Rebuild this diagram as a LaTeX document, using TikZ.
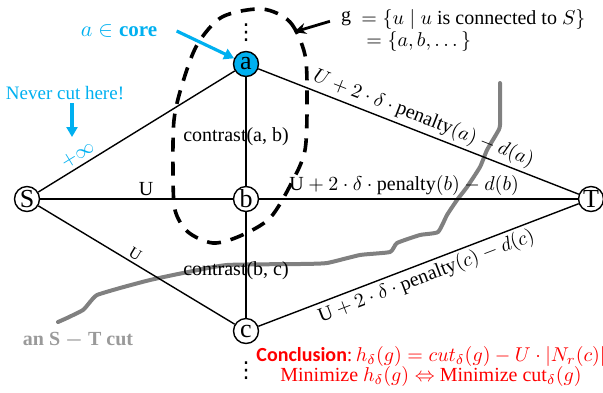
\documentclass[tikz,border=0pt]{standalone}
\usepackage{amsmath,amssymb}
\usepackage{fontspec}
\setmainfont{Liberation Serif}
\newfontfamily\calibri{Carlito}
\newfontfamily\dejavu{DejaVu Sans}
\usepackage{tikz}
\usetikzlibrary{
	arrows.meta,
	positioning,
	calc
}
\definecolor{skyblue}{RGB}{0,176,240}
\definecolor{cutgray}{RGB}{128,128,128}

\begin{document}
\begin{tikzpicture}[
				x=0.5pt, y=-0.5pt,
				vertex/.style={
					circle, draw, line width=0.7pt, fill=white,
					minimum size=12.5pt, inner sep=0pt,
					font=\fontsize{13}{13}\selectfont
				},
				dots/.style={inner sep=0pt, font=\dejavu\fontsize{11}{11}\selectfont},
				link/.style={line width=0.7pt},
				lbl/.style={font=\fontsize{10}{12}\selectfont, inner sep=1.5pt},
				bluearrow/.style={-{Triangle[length=5pt,width=5.5pt]}, line width=1.6pt, skyblue},
				blackarrow/.style={-{Stealth[length=6pt,width=5.5pt]}, line width=1.4pt},
				groupline/.style={line width=1.8pt, dash pattern=on 7pt off 5pt},
				cutline/.style={cutgray, line width=2pt, line cap=round, line join=round},
				]
				\useasboundingbox (0,0) rectangle (603,392);
				
				\node[vertex, fill=skyblue] (a) at (246,64) {a};
				\node[vertex] (S) at (27,199) {S};
				\node[vertex] (b) at (246,199) {b};
				\node[vertex] (T) at (591,199) {T};
				\node[vertex] (c) at (246,331) {c};
				\node[dots] (topdots) at (246,33) {⋮};
				\node[dots] (botdots) at (246,371) {⋮};
				
				%the cut
				\draw[cutline] plot[smooth, tension=0.3] coordinates {
					(500,83) (500,125) (497,133) (487,150) (480,167) (467,187)
					(457,200) (447,215) (438,232) (420,235) (397,243) (390,252)
					(360,255) (327,263) (300,264) (227,265) (183,273) (150,280)
					(120,288) (97,295) (90,302) (83,310) (67,318) (58,322)};
				\node[font=\bfseries, text=cutgray!80] (cutlbl) at (78,340) {an S $\boldsymbol{-}$ T cut};
				
				%the group g
				\draw[groupline] plot[smooth cycle] coordinates {
					(262,9) (290,22) (305,55) (307,100) (305,150) (292,182)
					(270,218) (240,236) (213,243) (188,232) (175,210) (173,170)
					(174,120) (182,85) (197,45) (222,17)};
				\coordinate (grp) at (294,32);
				
				%edges
				\draw[link] (S) -- node[lbl, sloped, above, pos=0.23, text=skyblue] (inf) {$+\infty$} (a);
				\draw[link] (S) -- node[lbl, above, pos=0.55] (uSb) {U} (b);
				\draw[link] (S) -- node[lbl, sloped, above, pos=0.47, font=\fontsize{8}{8}\selectfont] (uSc) {U} (c);
				\draw[link] (a) -- node[lbl, pos=0.55, xshift=-5pt] (cab) {contrast(a, b)} (b);
				\draw[link] (b) -- node[lbl, pos=0.55, xshift=-5pt] (cbc) {contrast(b, c)} (c);
				\draw[link] (a) -- node[lbl, sloped, above, pos=0.5] (pa) {$U + 2\cdot\delta\cdot\mathrm{penalty}(a) - d(a)$} (T);
				\draw[link] (b) -- node[lbl, above, pos=0.455] (pb) {$\mathrm{U} + 2\cdot\delta\cdot\mathrm{penalty}(b) - d(b)$} (T);
				\draw[link] (c) -- node[lbl, sloped, below, pos=0.51] (pc) {$\mathrm{U} + 2\cdot\delta\cdot\mathrm{penalty}(c) - d(c)$} (T);
				
				%annotations
				\node[lbl, text=skyblue, font=\fontsize{10.5}{12}\selectfont] (core) at (119,31) {$a\in\textbf{core}$};
				\draw[bluearrow] ([xshift=8pt]core.east) -- (a);
				
				\node[lbl, text=skyblue, font=\fontsize{9.5}{11}\selectfont] (never) at (65,93) {Never cut here!};
				\coordinate (mark) at (72,137);
				\draw[bluearrow] (never.south -| mark) -- (mark);
				
				\node[lbl] (gname) at (346,19) {g};
				\node[lbl, anchor=west] (gdef) at (358,19) {$=\{u\mid u$ is connected to $S\}$};
				\node[lbl, anchor=west] (gdef2) at (363,41) {$=\{a,b,\dots\}$};
				\draw[blackarrow, shorten <=4pt] (gname.west) -- (grp);
				
				\node[lbl, text=red, align=center, font=\fontsize{10}{10}\selectfont] (concl) at (431,366)
				{{\calibri\bfseries Conclusion}:\,$h_\delta(g) = cut_\delta(g) - U\cdot|N_r(c)|$\\
					Minimize $h_\delta(g)\Leftrightarrow$ Minimize cut$_\delta(g)$};
			\end{tikzpicture}
\end{document}
